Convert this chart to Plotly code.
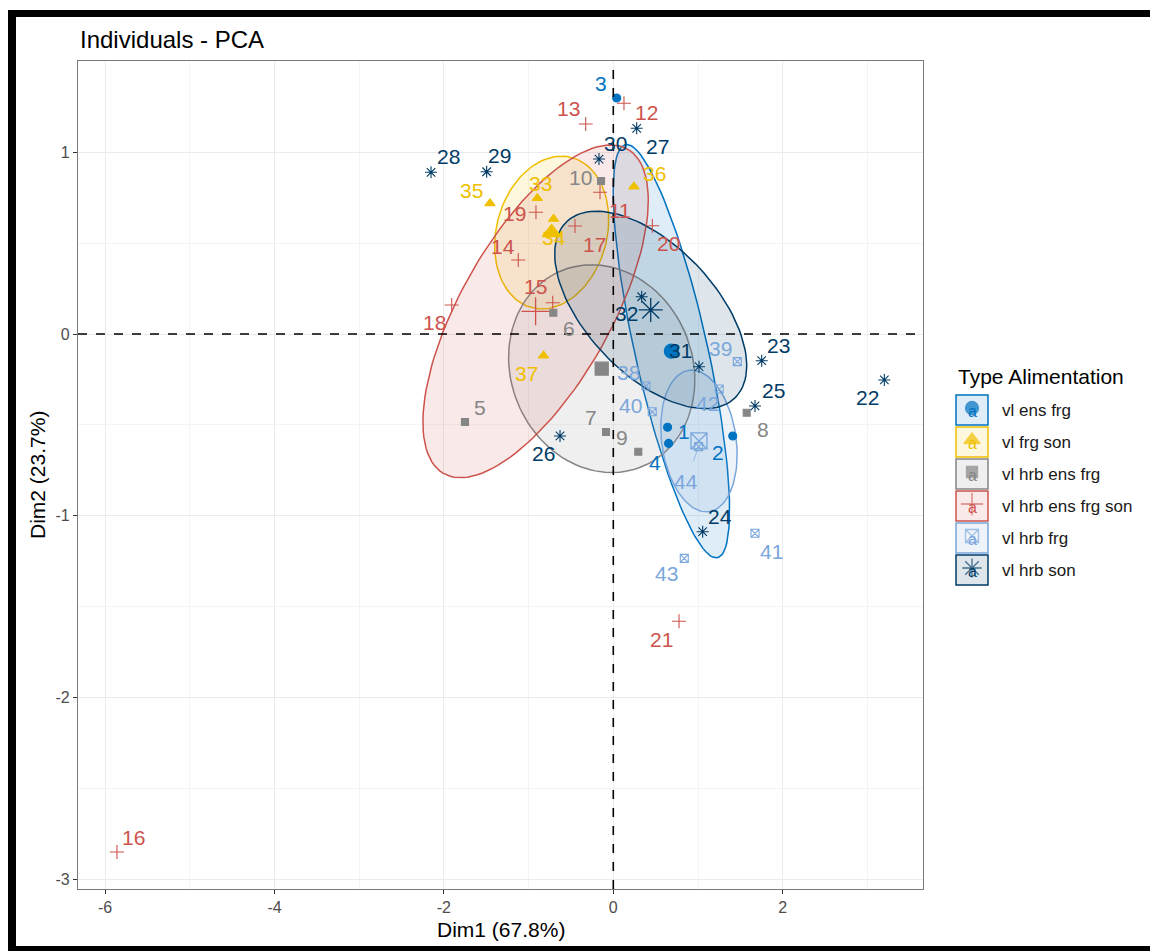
import numpy as np
import plotly.graph_objects as go

# ---------------- data ----------------
groups = ["vl ens frg", "vl frg son", "vl hrb ens frg",
          "vl hrb ens frg son", "vl hrb frg", "vl hrb son"]
group_colors = ["#0073C2", "#EFC000", "#868686", "#CD534C", "#7AA6DC", "#003C67"]

ids = [str(i) for i in range(1, 45)]

dim1 = [0.641, 1.410, 0.040, 0.653,
        -1.751, -0.708, -0.086, 1.575, 0.295, -0.145,
        -0.157, 0.126, -0.326, -1.122, -0.715, -5.860, -0.452, -1.908, -0.913, 0.461, 0.776,
        3.200, 1.752, 1.055, 1.673, -0.629, 0.276, -2.152, -1.495, -0.169, 1.012, 0.335,
        -0.897, -0.705, -1.456, 0.244, -0.823,
        0.386, 1.464, 0.460, 1.673, 1.251, 0.838, 1.008]

dim2 = [-0.513, -0.561, 1.299, -0.602,
        -0.484, 0.117, -0.539, -0.433, -0.648, 0.842,
        0.780, 1.270, 1.156, 0.407, 0.172, -2.851, 0.594, 0.160, 0.670, 0.596, -1.581,
        -0.253, -0.147, -1.088, -0.396, -0.561, 1.132, 0.890, 0.893, 0.963, -0.180, 0.205,
        0.747, 0.633, 0.719, 0.811, -0.119,
        -0.286, -0.152, -0.428, -1.097, -0.303, -1.235, -0.620]

group_of = (["vl ens frg"] * 4 + ["vl hrb ens frg"] * 6 + ["vl hrb ens frg son"] * 11
            + ["vl hrb son"] * 11 + ["vl frg son"] * 5 + ["vl hrb frg"] * 7)

x_ticks = [-6, -4, -2, 0, 2]
y_ticks = [-3, -2, -1, 0, 1]

# ---------------- styles ----------------
symbols = ["circle", "triangle-up", "square", "cross-thin-open", "square-x-open", "asterisk-open"]
pt_sizes = [8, 9, 7, 10, 8, 10]
mean_sizes = [14, 16, 13, 20, 16, 20]

# label offsets in pixels (dx right, dy down), as placed by the repel layout
label_off = [(16, 4), (-15, 17), (-16, -14), (-14, 19),
             (15, -14), (16, 16), (-15, -14), (16, 17), (-16, -14), (-21, -4),
             (20, 18), (23, 9), (-17, -15), (-15, -14), (-17, -16), (17, -15), (19, 18),
             (-17, 18), (-21, 1), (16, 18), (-18, 18),
             (-17, 18), (17, -15), (17, -15), (18, -15), (-17, 18), (21, 18), (17, -16),
             (13, -16), (17, -16), (-19, -16), (-15, 17),
             (3, -15), (0, 19), (-18, -13), (21, -13), (-17, 18),
             (-17, -13), (-17, -13), (-22, -6), (16, 18), (-12, 14), (-18, 15), (-13, 35)]

FONT = "Liberation Sans, Arial, sans-serif"
W, H = 1150, 951
PX_L, PX_R, PX_T, PX_B = 78, 923, 61, 889
LABEL_SIZE = 21


def rgba(hex_color, a):
    h = hex_color.lstrip("#")
    r, g, b = int(h[0:2], 16), int(h[2:4], 16), int(h[4:6], 16)
    return f"rgba({r},{g},{b},{a})"


T = np.sqrt(-2 * np.log(0.05))  # sqrt(qchisq(0.95, 2))


def conf_ellipse(xs, ys, n=120):
    pts = np.column_stack([xs, ys])
    c = pts.mean(axis=0)
    cov = np.cov(pts.T) / len(xs)
    sx, sy = np.sqrt(np.diag(cov))
    r = np.clip(cov[0, 1] / (sx * sy), -1, 1)
    d = np.arccos(r)
    a = np.linspace(0, 2 * np.pi, n)
    return T * sx * np.cos(a + d / 2) + c[0], T * sy * np.cos(a - d / 2) + c[1]


x_arr = np.array(dim1)
y_arr = np.array(dim2)
g_arr = np.array(group_of)

fig = go.Figure()

# ellipses
for gi, g in enumerate(groups):
    m = g_arr == g
    ex, ey = conf_ellipse(x_arr[m], y_arr[m])
    fig.add_trace(go.Scatter(
        x=ex, y=ey, mode="lines", fill="toself",
        fillcolor=rgba(group_colors[gi], 0.13),
        line=dict(color=group_colors[gi], width=1.5),
        hoverinfo="skip", showlegend=False))

# points and group means
for gi, g in enumerate(groups):
    m = g_arr == g
    col = group_colors[gi]
    fig.add_trace(go.Scatter(
        x=x_arr[m], y=y_arr[m], mode="markers", name=g, showlegend=False,
        text=[ids[i] for i in np.where(m)[0]],
        marker=dict(symbol=symbols[gi], size=pt_sizes[gi], color=col,
                    line=dict(color=col, width=1.1))))
    fig.add_trace(go.Scatter(
        x=[x_arr[m].mean()], y=[y_arr[m].mean()], mode="markers", showlegend=False,
        hoverinfo="skip",
        marker=dict(symbol=symbols[gi], size=mean_sizes[gi], color=col,
                    line=dict(color=col, width=1.3))))

annotations = []
# point labels
for i, name in enumerate(ids):
    gi = groups.index(group_of[i])
    dx, dy = label_off[i]
    if name == "44":
        annotations.append(dict(
            x=dim1[i], y=dim2[i], xref="x", yref="y", text=name,
            showarrow=True, ax=dx, ay=dy, arrowhead=0, arrowwidth=0.7,
            arrowcolor=group_colors[gi], standoff=4, startstandoff=8,
            font=dict(family=FONT, size=LABEL_SIZE, color=group_colors[gi])))
    else:
        annotations.append(dict(
            x=dim1[i], y=dim2[i], xref="x", yref="y", text=name, showarrow=False,
            xshift=dx, yshift=-dy,
            font=dict(family=FONT, size=LABEL_SIZE, color=group_colors[gi])))

# titles (page-pixel coordinates on overlay axis)
annotations.append(dict(x=PX_L, y=39, xref="x2", yref="y2", text="Individuals - PCA",
                        showarrow=False, xanchor="left", yanchor="middle",
                        font=dict(family=FONT, size=24, color="black")))
annotations.append(dict(x=(PX_L + PX_R) / 2, y=929, xref="x2", yref="y2", text="Dim1 (67.8%)",
                        showarrow=False, xanchor="center", yanchor="middle",
                        font=dict(family=FONT, size=21, color="black")))
annotations.append(dict(x=37, y=(PX_T + PX_B) / 2, xref="x2", yref="y2", text="Dim2 (23.7%)",
                        showarrow=False, textangle=-90, xanchor="center", yanchor="middle",
                        font=dict(family=FONT, size=21, color="black")))

# custom legend
leg_x0, leg_x1 = 956, 988
leg_cy = [410, 442, 474, 506, 538, 570]
annotations.append(dict(x=956, y=376, xref="x2", yref="y2", text="Type Alimentation",
                        showarrow=False, xanchor="left", yanchor="middle",
                        font=dict(family=FONT, size=21, color="black")))
shapes = []
for gi, g in enumerate(groups):
    cy = leg_cy[gi]
    col = group_colors[gi]
    shapes.append(dict(type="rect", xref="x2", yref="y2", x0=leg_x0, x1=leg_x1,
                       y0=cy - 15, y1=cy + 15, fillcolor=rgba(col, 0.13),
                       line=dict(color=col, width=1.5), layer="below"))
    annotations.append(dict(x=(leg_x0 + leg_x1) / 2, y=cy + 1, xref="x2", yref="y2", text="a",
                            showarrow=False, xanchor="center", yanchor="middle",
                            font=dict(family=FONT, size=16, color=col)))
    annotations.append(dict(x=1000, y=cy, xref="x2", yref="y2", text=g,
                            showarrow=False, xanchor="left", yanchor="middle",
                            font=dict(family=FONT, size=17, color="#1A1A1A")))

fig.add_trace(go.Scatter(
    x=[(leg_x0 + leg_x1) / 2] * 6, y=[c - 2 for c in leg_cy], xaxis="x2", yaxis="y2",
    mode="markers", showlegend=False, hoverinfo="skip",
    marker=dict(symbol=symbols, size=[13, 14, 11, 16, 13, 16], color=group_colors,
                line=dict(color=group_colors, width=1.3))))

# dashed reference lines at 0 (confined to the panel)
shapes.append(dict(type="line", xref="x", yref="y domain", x0=0, x1=0, y0=0, y1=1,
                   line=dict(color="black", width=1.6, dash="dash"), layer="above"))
shapes.append(dict(type="line", xref="x domain", yref="y", x0=0, x1=1, y0=0, y1=0,
                   line=dict(color="black", width=1.6, dash="dash"), layer="above"))

# outer black frame
for (x0, x1, y0, y1) in [(8, 1150, 10, 17), (8, 16, 10, 951), (8, 1150, 946, 951)]:
    shapes.append(dict(type="rect", xref="x2", yref="y2", x0=x0, x1=x1, y0=y0, y1=y1,
                       fillcolor="black", line=dict(width=0), layer="above"))

# axis ranges from pixel layout
x_per = 84.7
y_per = 181.7
x0_px, y0_px = 613.3, 334
x_range = [(PX_L - x0_px) / x_per, (PX_R - x0_px) / x_per]
y_range = [(y0_px - PX_B) / y_per, (y0_px - PX_T) / y_per]

fig.update_layout(
    width=W, height=H,
    margin=dict(l=0, r=0, t=0, b=0),
    paper_bgcolor="white", plot_bgcolor="rgba(0,0,0,0)",
    showlegend=False,
    xaxis=dict(domain=[PX_L / W, PX_R / W], range=x_range, anchor="y",
               tickvals=x_ticks, ticktext=[str(v) for v in x_ticks],
               ticks="outside", ticklen=4, tickwidth=1.1, tickcolor="#333333",
               tickfont=dict(family=FONT, size=16, color="#4D4D4D"),
               showgrid=True, gridcolor="#EBEBEB", gridwidth=1.1,
               minor=dict(tickvals=[-5, -3, -1, 1, 3], showgrid=True,
                          gridcolor="#F4F4F4", gridwidth=0.8, ticks=""),
               zeroline=False, showline=True, mirror=True,
               linecolor="#7A7A7A", linewidth=1.3),
    yaxis=dict(domain=[(H - PX_B) / H, (H - PX_T) / H], range=y_range, anchor="x",
               tickvals=y_ticks, ticktext=[str(v) for v in y_ticks],
               ticks="outside", ticklen=4, tickwidth=1.1, tickcolor="#333333",
               tickfont=dict(family=FONT, size=16, color="#4D4D4D"),
               showgrid=True, gridcolor="#EBEBEB", gridwidth=1.1,
               minor=dict(tickvals=[-2.5, -1.5, -0.5, 0.5, 1.5], showgrid=True,
                          gridcolor="#F4F4F4", gridwidth=0.8, ticks=""),
               zeroline=False, showline=True, mirror=True,
               linecolor="#7A7A7A", linewidth=1.3),
    xaxis2=dict(domain=[0, 1], range=[0, W], anchor="y2", visible=False, fixedrange=True),
    yaxis2=dict(domain=[0, 1], range=[H, 0], anchor="x2", visible=False, fixedrange=True),
    annotations=annotations,
    shapes=shapes,
)

fig.write_html(
    "out.html",
    config={"displayModeBar": False},
    post_script="document.body.style.margin='0';document.body.style.overflow='hidden';",
)
